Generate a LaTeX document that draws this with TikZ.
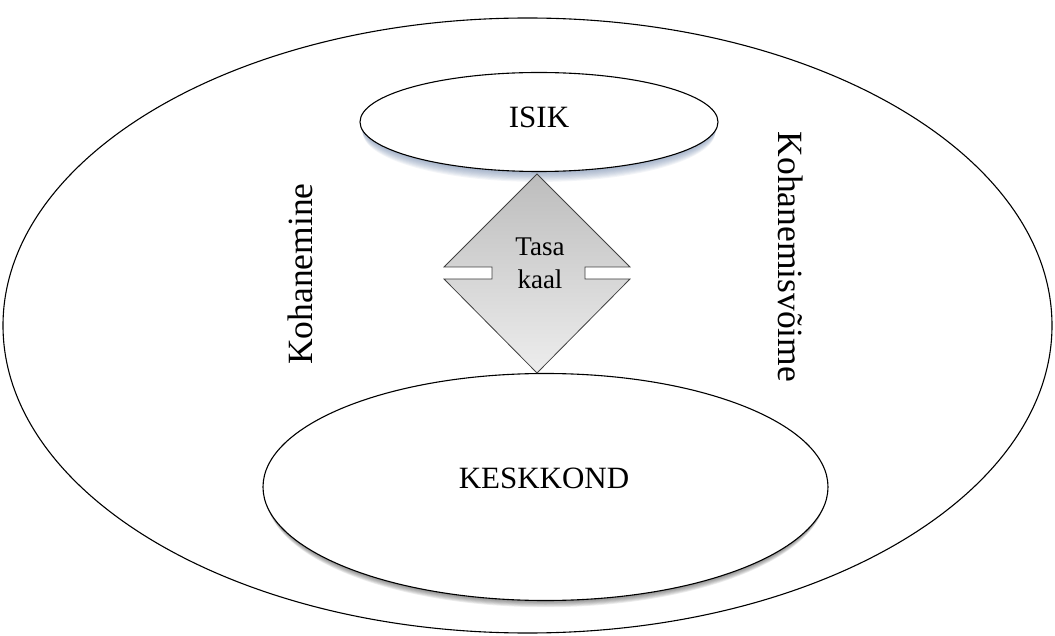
\documentclass[tikz,border=0pt]{standalone}
\usepackage{fontspec}
\setmainfont{Liberation Serif}
\usetikzlibrary{shapes.geometric}
\definecolor{isikshadow}{RGB}{95,120,160}
\definecolor{keskshadow}{RGB}{50,50,50}
\tikzset{
  blob/.style={ellipse, draw=black, line width=1.1pt, fill=white, inner sep=0pt},
  bigfont/.style={font=\fontsize{31pt}{38pt}\selectfont, inner sep=0pt},
  sidefont/.style={font=\fontsize{35.5pt}{42pt}\selectfont},
  balance/.style={draw=black!75, line width=0.8pt, top color=black!26, bottom color=black!7, line join=miter},
}
\begin{document}
\begin{tikzpicture}[x=1pt,y=-1pt]
\useasboundingbox (0,0) rectangle (1055,636);
% outer ellipse
\node[blob, fill=none, minimum width=1049pt, minimum height=615pt] (outer) at (527.5,325.5) {};
% KESKKOND shadow
\foreach \i in {1,...,8}
  \fill[keskshadow, opacity=0.09] (545.5,{487+\i*0.9}) ellipse [x radius={282.5pt-\i*0.35pt}, y radius=113pt];
\node[blob, minimum width=565pt, minimum height=227pt] (kesk) at (545.5,487) {};
\node[bigfont] (kesktext) at (544,478) {KESKKOND};
% ISIK shadow
\foreach \i in {1,...,9}
  \fill[isikshadow, opacity=0.08] (539,{122+\i*1.1}) ellipse [x radius={179pt-\i*0.3pt}, y radius=50pt];
\node[blob, minimum width=358pt, minimum height=99pt] (isik) at (539,122) {};
\node[bigfont] (isiktext) at (539,117) {ISIK};
% balance diamond
\coordinate (dtop) at (537,174);
\coordinate (dbot) at (537,373);
\draw[balance] (dtop) -- (630,267) -- (585,267) -- (585,279) -- (630,279) -- (dbot)
  -- (444,279) -- (492,279) -- (492,267) -- (444,267) -- cycle;
\node[align=center, font=\fontsize{27pt}{33pt}\selectfont, inner sep=0pt] (tasa) at (540,263.5) {Tasa\\kaal};
% side labels
\node[sidefont, rotate=90] (koh) at (300,274) {Kohanemine};
\node[sidefont, rotate=-90] (kohv) at (791,257) {Kohanemisvõime};
\end{tikzpicture}
\end{document}
